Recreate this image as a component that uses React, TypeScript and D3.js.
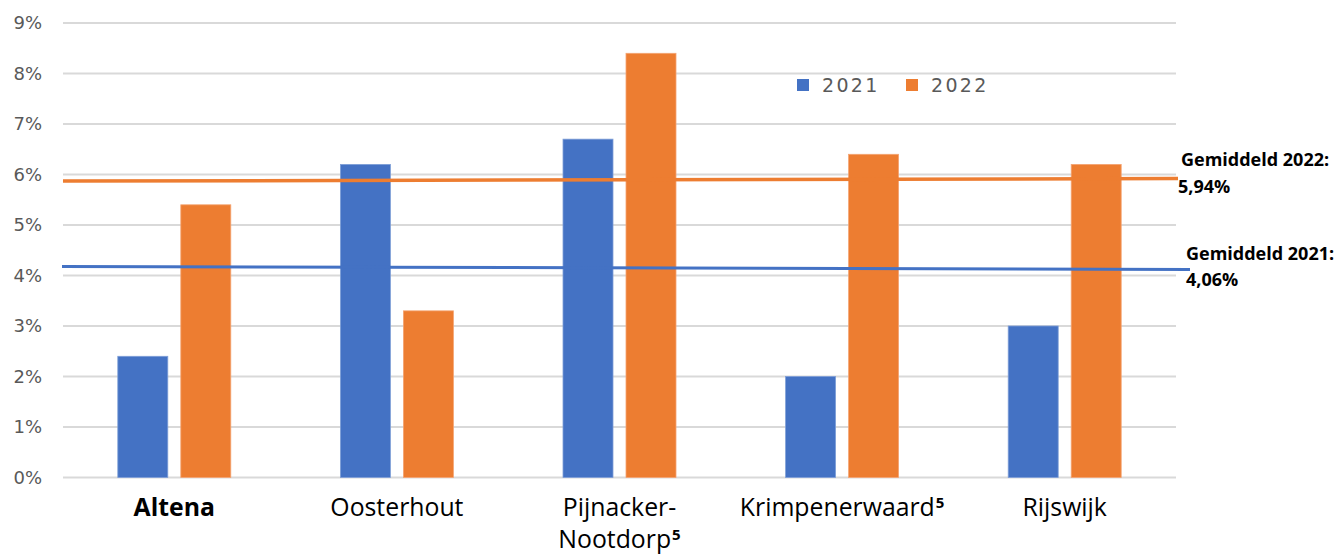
import React from "react";
import * as d3 from "d3";

const categories = ["Altena", "Oosterhout", "Pijnacker-\nNootdorp⁵", "Krimpenerwaard⁵", "Rijswijk"];
const values2021 = [2.4, 6.2, 6.7, 2.0, 3.0];
const values2022 = [5.4, 3.3, 8.4, 6.4, 6.2];
const yTicks = [0, 1, 2, 3, 4, 5, 6, 7, 8, 9];
const seriesNames = ["2021", "2022"];
// drawn average lines (start value, end value) as in the picture
const avgLine2022 = [5.87, 5.92];
const avgLine2021 = [4.18, 4.12];
const avgLabels = [
  ["Gemiddeld 2022:", "5,94%"],
  ["Gemiddeld 2021:", "4,06%"],
];

const W = 1341;
const H = 559;
const left = 63;
const right = 1176;
const top = 23;
const bottom = 477.5;
const BLUE = "#4472c4";
const ORANGE = "#ed7d31";
const GREY = "#595959";

function Label({ text, x, y, bold }: { text: string; x: number; y: number; bold: boolean }) {
  const hasSup = text.endsWith("⁵");
  const main = hasSup ? text.slice(0, -1) : text;
  return (
    <text
      x={x}
      y={y}
      textAnchor="middle"
      fontSize={24.8}
      fontWeight={bold ? 700 : 400}
      fontFamily="'Open Sans', sans-serif"
      fill="#000"
    >
      {main}
      {hasSup && (
        <tspan fontSize={15} fontWeight={700} dy={-8} dx={1}>
          5
        </tspan>
      )}
    </text>
  );
}

export default function App() {
  const x = d3.scaleBand<number>().domain(d3.range(categories.length)).range([left, right]);
  const y = d3.scaleLinear().domain([0, 9]).range([bottom, top]);
  const bw = 50;
  const gap = 13;
  const annFont = "'Open Sans', 'Noto Sans', sans-serif";

  return (
    <svg width={W} height={H} style={{ position: "absolute", left: 0, top: 0, background: "#fff" }}>
      {yTicks.map((t) => (
        <g key={t}>
          <line x1={left} x2={right} y1={y(t)} y2={y(t)} stroke="#d9d9d9" strokeWidth={2} />
          <text
            x={42}
            y={y(t)}
            dy="0.36em"
            textAnchor="end"
            fill={GREY}
            fontSize={18}
            fontFamily="'DejaVu Sans', sans-serif"
          >
            {t}%
          </text>
        </g>
      ))}
      {categories.map((c, i) => {
        const cx = (x(i) as number) + x.bandwidth() / 2;
        return (
          <g key={c}>
            <rect
              x={cx - gap / 2 - bw}
              y={y(values2021[i])}
              width={bw}
              height={bottom - y(values2021[i])}
              fill={BLUE}
              stroke="#7f9fd8"
              strokeWidth={0.8}
            />
            <rect
              x={cx + gap / 2}
              y={y(values2022[i])}
              width={bw}
              height={bottom - y(values2022[i])}
              fill={ORANGE}
              stroke="#f4a473"
              strokeWidth={0.8}
            />
            {c.split("\n").map((line, j) => (
              <Label key={j} text={line} x={cx} y={516 + j * 32} bold={i === 0} />
            ))}
          </g>
        );
      })}
      {/* average lines */}
      <line x1={63} x2={1178} y1={y(avgLine2022[0])} y2={y(avgLine2022[1])} stroke={ORANGE} strokeWidth={3.5} />
      <line x1={62} x2={1190} y1={y(avgLine2021[0])} y2={y(avgLine2021[1])} stroke={BLUE} strokeWidth={3} />
      {/* legend */}
      {seriesNames.map((s, i) => (
        <g key={s} transform={`translate(${797 + i * 109},79)`}>
          <rect width={12} height={12} fill={i === 0 ? BLUE : ORANGE} />
          <text
            x={25}
            y={6}
            dy="0.38em"
            fontSize={19}
            fill={GREY}
            letterSpacing={2.3}
            fontFamily="'DejaVu Sans', sans-serif"
          >
            {s}
          </text>
        </g>
      ))}
      {/* annotations */}
      {avgLabels.map((lab, i) => (
        <g key={i}>
          <text x={i === 0 ? 1181 : 1186} y={166 + i * 94} fontSize={18} fontWeight={700} fontFamily={annFont} fill="#000">
            {lab[0]}
          </text>
          <text x={i === 0 ? 1178 : 1186} y={193 + i * 93} fontSize={18} fontWeight={700} fontFamily={annFont} fill="#000">
            {lab[1]}
          </text>
        </g>
      ))}
    </svg>
  );
}
